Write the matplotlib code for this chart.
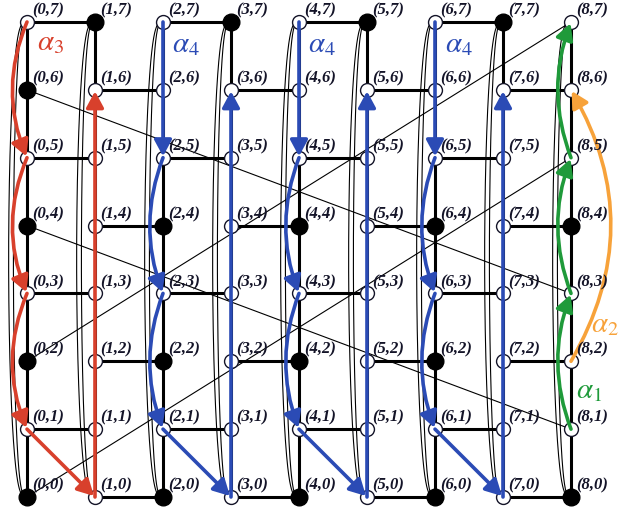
import numpy as np
import matplotlib
matplotlib.use('Agg')
import matplotlib.pyplot as plt
from matplotlib.patches import FancyArrowPatch

plt.rcParams['mathtext.fontset'] = 'stix'

# grid of routers (column, row)
cols = list(range(9))
rows = list(range(8))

# black (filled) nodes, the rest are hollow
filled = [(1, 7), (3, 7), (5, 7), (7, 7), (0, 6),
          (0, 4), (2, 4), (4, 4), (6, 4), (8, 4),
          (0, 2), (2, 2), (4, 2), (6, 2),
          (0, 0), (2, 0), (4, 0), (6, 0), (8, 0)]

# long thin diagonal links
diag_links = [((0, 6), (8, 3)), ((0, 4), (8, 1)), ((0, 2), (8, 7)), ((0, 0), (8, 5))]

# routes, with the bend of every segment (0 = straight)
route_a3 = [(0, 7), (0, 5), (0, 3), (0, 1), (1, 0), (1, 6)]
bend_a3 = [0.21, 0.21, 0.21, 0, 0]
routes_a4 = [[(2, 7), (2, 5), (2, 3), (2, 1), (3, 0), (3, 6)],
             [(4, 7), (4, 5), (4, 3), (4, 1), (5, 0), (5, 6)],
             [(6, 7), (6, 5), (6, 3), (6, 1), (7, 0), (7, 6)]]
bend_a4 = [0, 0.19, 0.19, 0, 0]
route_a1 = [(8, 1), (8, 3), (8, 5), (8, 7)]
bend_a1 = [-0.19, -0.19, -0.19]
route_a2 = [(8, 2), (8, 6)]
bend_a2 = [0.29]

RED = '#d8402c'
BLUE = '#2b4bb5'
GREEN = '#1f9a3a'
ORANGE = '#f7a23a'
INK = '#141428'

fig = plt.figure(figsize=(6.21, 5.14), dpi=100)
ax = fig.add_axes([0, 0, 1, 1])
ax.set_xlim(-27 / 68, (621 - 27) / 68)
ax.set_ylim((497 - 514) / 67.86, 497 / 67.86)
ax.axis('off')

# wrap-around loops on the left of each column
t = np.linspace(0, 1, 300)
for c in cols:
    for d in (0.2, 0.27):
        ax.plot(c - d * np.sin(np.pi * t) ** 0.3, 7 - 7 * t,
                color='black', lw=0.8, zorder=1)

# diagonal links
for (a, b) in diag_links:
    ax.plot([a[0], b[0]], [a[1], b[1]], color='black', lw=0.8, zorder=1)

# vertical mesh links
for c in cols:
    ax.plot([c, c], [rows[0], rows[-1]], color='black', lw=2.2, zorder=2)

# horizontal links, brick pattern
for r in rows:
    start = 0 if r % 2 == 1 else 1
    for c in range(start, cols[-1], 2):
        ax.plot([c, c + 1], [r, r], color='black', lw=2.2, zorder=2)

# nodes
for c in cols:
    for r in rows:
        if (c, r) in filled:
            ax.plot(c, r, 'o', ms=12, mfc='black', mec='black', zorder=3)
        else:
            ax.plot(c, r, 'o', ms=10, mfc='white', mec=INK, mew=1.0, zorder=3)
        ax.text(c + 0.08, r + 0.05, f'({c},{r})', ha='left', va='bottom',
                family='Liberation Serif', weight='bold', style='italic',
                fontsize=12, color=INK, zorder=6)


def draw_route(route, bends, color):
    for (p, q, rad) in zip(route[:-1], route[1:], bends):
        arr = FancyArrowPatch(p, q, connectionstyle=f'arc3,rad={rad}',
                              arrowstyle='-|>,head_length=0.65,head_width=0.35',
                              mutation_scale=15, color=color, lw=2.6,
                              shrinkA=0, shrinkB=1, zorder=4)
        ax.add_patch(arr)


draw_route(route_a3, bend_a3, RED)
for route in routes_a4:
    draw_route(route, bend_a4, BLUE)
draw_route(route_a1, bend_a1, GREEN)
draw_route(route_a2, bend_a2, ORANGE)

# route names
ax.text(0.15, 6.59, r'$\alpha_3$', color=RED, fontsize=21, va='baseline', zorder=6)
for x in (2.13, 4.13, 6.15):
    ax.text(x, 6.56, r'$\alpha_4$', color=BLUE, fontsize=21, va='baseline', zorder=6)
ax.text(8.3, 2.43, r'$\alpha_2$', color=ORANGE, fontsize=21, va='baseline', zorder=6)
ax.text(8.07, 1.46, r'$\alpha_1$', color=GREEN, fontsize=21, va='baseline', zorder=6)

fig.savefig('out.png', dpi=100)
